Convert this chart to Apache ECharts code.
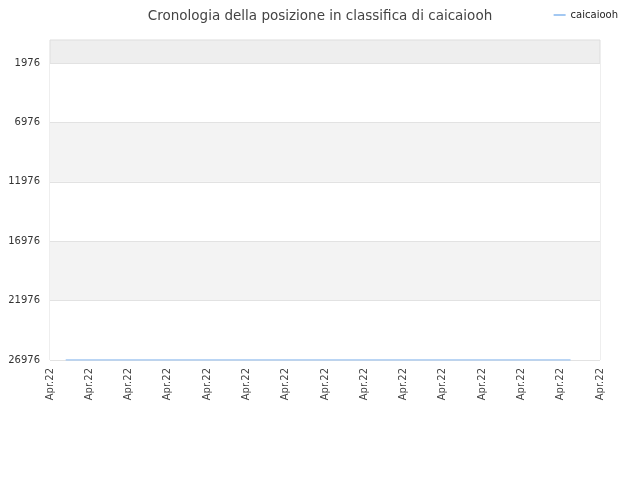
<!DOCTYPE html>
<html>
<head>
<meta charset="utf-8">
<script src="https://cdn.jsdelivr.net/npm/echarts@6/dist/echarts.min.js"></script>
<style>html,body{margin:0;padding:0;background:#fff}#c{width:640px;height:480px}</style>
</head>
<body>
<div id="c"></div>
<script>
var title = 'Cronologia della posizione in classifica di caicaiooh';
var seriesName = 'caicaiooh';
var xTickLabels = ['Apr.22','Apr.22','Apr.22','Apr.22','Apr.22','Apr.22','Apr.22','Apr.22','Apr.22','Apr.22','Apr.22','Apr.22','Apr.22','Apr.22','Apr.22'];
var yTickValues = [1976, 6976, 11976, 16976, 21976, 26976];
var xPositions = [0.4, 3, 6, 9, 13.25];
var ranks = [26976, 26976, 26976, 26976, 26976];
var yMin = 40, yMax = 26976;

var chart = echarts.init(document.getElementById('c'), null, {renderer: 'canvas'});
chart.setOption({
  animation: false,
  backgroundColor: '#fff',
  title: {
    text: title, left: 'center', top: 4,
    textStyle: {fontFamily: 'DejaVu Sans', fontSize: 13.5, fontWeight: 'normal', color: '#444'}
  },
  legend: {
    data: [seriesName], right: 17, top: 5, itemWidth: 12, itemHeight: 2, itemGap: 6,
    icon: 'rect',
    textStyle: {fontFamily: 'DejaVu Sans', fontSize: 10, color: '#222'}
  },
  grid: {
    left: 50, right: 40, top: 40, bottom: 120, show: true,
    backgroundColor: '#eeeeee', borderColor: '#dddddd', borderWidth: 1
  },
  xAxis: {
    type: 'value', min: 0, max: xTickLabels.length - 1, interval: 1,
    axisLine: {show: false}, axisTick: {show: false}, splitLine: {show: false},
    axisLabel: {
      rotate: 90, margin: 8, fontFamily: 'DejaVu Sans', fontSize: 10, color: '#444',
      formatter: function (v) { return xTickLabels[Math.round(v)] || ''; }
    }
  },
  yAxis: {
    type: 'value', inverse: true, min: yMin, max: yMax,
    axisLine: {show: false},
    axisTick: {show: false, customValues: yTickValues},
    axisLabel: {
      customValues: yTickValues, margin: 10, fontFamily: 'DejaVu Sans', fontSize: 10, color: '#333',
      formatter: function (v) { return String(v); }
    },
    splitLine: {show: true, lineStyle: {color: '#e2e2e2', width: 1}},
    splitArea: {show: true, areaStyle: {color: ['#ffffff', '#f3f3f3']}}
  },
  series: [{
    name: seriesName, type: 'line', showSymbol: false, symbol: 'none',
    data: xPositions.map(function (x, i) { return [x, ranks[i]]; }),
    lineStyle: {color: '#a3c8f2', width: 1.5},
    itemStyle: {color: '#a3c8f2'}
  }]
});
</script>
</body>
</html>
